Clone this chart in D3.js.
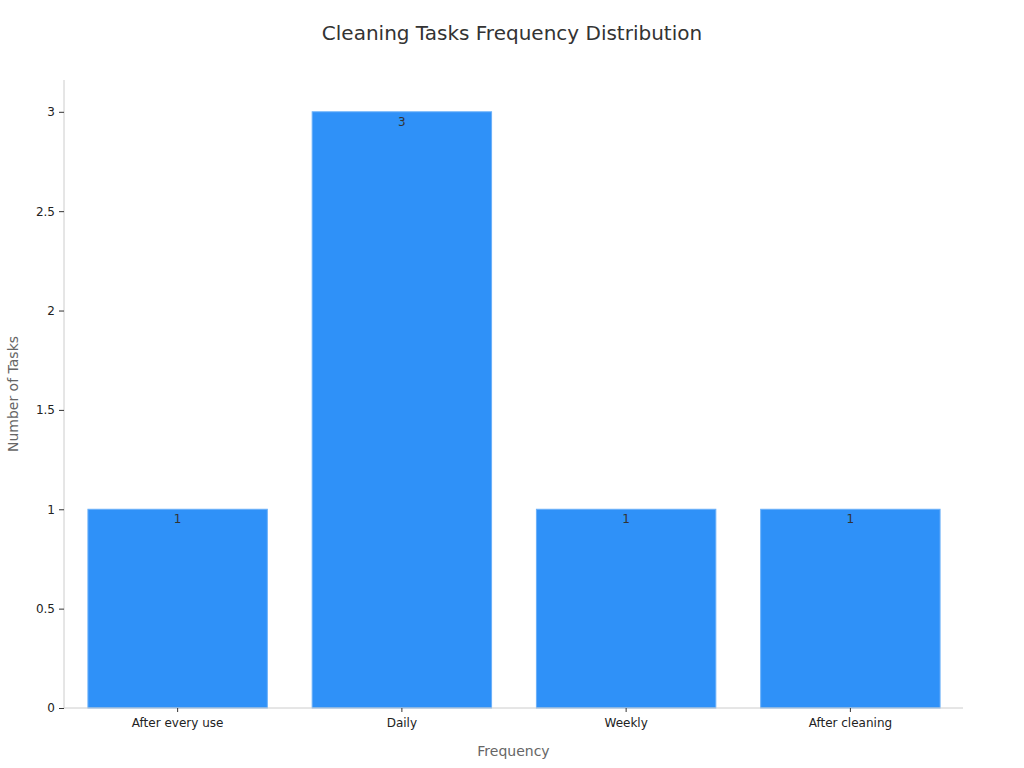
<!DOCTYPE html>
<html><head><meta charset="utf-8">
<script src="https://cdn.jsdelivr.net/npm/d3@7/dist/d3.min.js"></script>
<style>body{margin:0;background:#fff;font-family:"DejaVu Sans",sans-serif;}</style>
</head><body>
<svg id="c" width="1024" height="768"></svg>
<script>
const categories = ["After every use", "Daily", "Weekly", "After cleaning"];
const values = [1, 3, 1, 1];
const yTicks = [0, 0.5, 1, 1.5, 2, 2.5, 3];
const title = "Cleaning Tasks Frequency Distribution";
const xTitle = "Frequency";
const yTitle = "Number of Tasks";

const svg = d3.select("#c");
const m = {left: 64, right: 61, top: 80, bottom: 60};
const W = 1024, H = 768;
const x = d3.scaleBand().domain(categories).range([m.left + 1.5, W - m.right - 0.5]).paddingInner(0.2).paddingOuter(0.1);
const y = d3.scaleLinear().domain([0, 3.16]).range([H - m.bottom, m.top]);

svg.append("text").attr("x", 512).attr("y", 40).attr("text-anchor", "middle")
  .attr("font-size", 20).attr("fill", "#333").text(title);

// bars
svg.selectAll("rect.bar").data(values).join("rect").attr("class", "bar")
  .attr("x", (d, i) => x(categories[i])).attr("width", x.bandwidth())
  .attr("y", d => y(d)).attr("height", d => y(0) - y(d))
  .attr("fill", "#2f91f8").attr("stroke", "#6ab0f9").attr("stroke-width", 1);

svg.selectAll("text.val").data(values).join("text").attr("class", "val")
  .attr("x", (d, i) => x(categories[i]) + x.bandwidth() / 2).attr("y", d => y(d) + 14)
  .attr("text-anchor", "middle").attr("font-size", 12).attr("fill", "#333").text(d => d);

// y axis
const ya = svg.append("g").attr("transform", `translate(${m.left},0)`)
  .call(d3.axisLeft(y).tickValues(yTicks).tickSize(5).tickPadding(4).tickFormat(d3.format("")));
ya.select(".domain").attr("stroke", "#ccc").attr("d", `M0,${y(0)}V${m.top}`);
ya.selectAll(".tick line").attr("stroke", "#333");
ya.selectAll(".tick text").attr("font-size", 12).attr("fill", "#222").attr("font-family", "DejaVu Sans");

// x axis
const xa = svg.append("g").attr("transform", `translate(0,${y(0)})`)
  .call(d3.axisBottom(x).tickSize(4).tickPadding(6));
xa.select(".domain").attr("stroke", "#ccc").attr("d", `M${m.left},0H${W - m.right + 0}`);
xa.selectAll(".tick line").attr("stroke", "#333");
xa.selectAll(".tick text").attr("font-size", 12).attr("fill", "#222").attr("font-family", "DejaVu Sans");

svg.append("text").attr("x", (m.left + W - m.right) / 2).attr("y", 756).attr("text-anchor", "middle")
  .attr("font-size", 14).attr("fill", "#666").text(xTitle);
svg.append("text").attr("transform", `translate(18,${(m.top + H - m.bottom) / 2}) rotate(-90)`)
  .attr("text-anchor", "middle").attr("font-size", 14).attr("fill", "#666").text(yTitle);
</script>
</body></html>
